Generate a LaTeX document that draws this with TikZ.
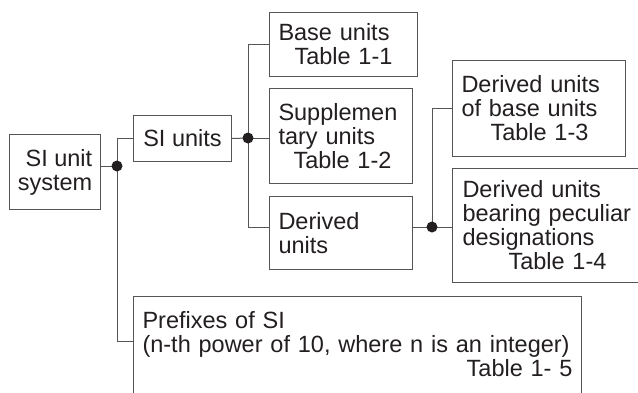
\documentclass[tikz,border=0pt]{standalone}
\usepackage{fontspec}
\setmainfont{Liberation Sans}
\definecolor{ln}{HTML}{555555}
\definecolor{tx}{HTML}{231F20}
\begin{document}
\begin{tikzpicture}[x=1pt,y=-1pt,
  box/.style={draw=ln, line width=1pt, anchor=north west, text=tx,
    font=\fontsize{23.5}{24}\selectfont, inner xsep=9pt, inner ysep=0pt, align=left},
  conn/.style={draw=ln, line width=1pt},
  junc/.style={circle, fill=tx, inner sep=0pt, minimum size=11pt}]
\useasboundingbox (0,0) rectangle (638,392);
\clip (0,0) rectangle (638,392);
\fill[white] (0,0) rectangle (638,392);
% boxes
\node[box, align=right, minimum width=91pt, minimum height=75pt, inner xsep=0pt] (sys) at (9,134) {SI unit\\system};
\node[box, align=center, minimum width=98pt, minimum height=46pt, inner xsep=0pt] (si) at (133,115) {SI units};
\node[box, text width=130pt, minimum height=64pt] (base) at (269,12) {Base units\\\hspace*{16pt}Table 1-1};
\node[box, text width=125pt, minimum height=95pt] (supp) at (269,88) {Supplemen\\tary units\\\hspace*{15pt}Table 1-2};
\node[box, text width=125pt, minimum height=73pt] (der) at (269,196) {Derived\\units};
\node[box, text width=155pt, minimum height=96pt] (dbase) at (452,60) {Derived units\\of base units\\\hspace*{29pt}Table 1-3};
\node[box, text width=180pt, inner xsep=10pt, minimum height=114pt] (dpec) at (452,168) {Derived units\\bearing peculiar\\designations\\\hspace*{46pt}Table 1-4};
\node[box, text width=430pt, inner ysep=15pt, text depth=100pt] (pref) at (133,296) {Prefixes of SI\\(n-th power of 10, where n is an integer)\\\hspace*{\fill}Table 1- 5};
% junction points
\coordinate (d1) at (117,166);
\coordinate (d2) at (248,138);
\coordinate (d3) at (432,227);
\coordinate (pj) at (117,341);
% connectors
\draw[conn] (sys.east |- d1) -- (d1);
\draw[conn] (si.west -| d1) -- (si.west);
\draw[conn] (si.west -| d1) -- (pj) -- (pref.north west |- pj);
\draw[conn] (si.east) -- (d2);
\draw[conn] (d2 |- base.west) -- (base.west);
\draw[conn] (d2) -- (supp.west |- d2);
\draw[conn] (d2 |- base.west) -- (d2 |- d3) -- (der.west |- d3);
\draw[conn] (der.east |- d3) -- (dpec.west |- d3);
\draw[conn] (d3) -- (d3 |- dbase.west) -- (dbase.west);
\node[junc] (j1) at (d1) {};
\node[junc] (j2) at (d2) {};
\node[junc] (j3) at (d3) {};
\end{tikzpicture}
\end{document}
